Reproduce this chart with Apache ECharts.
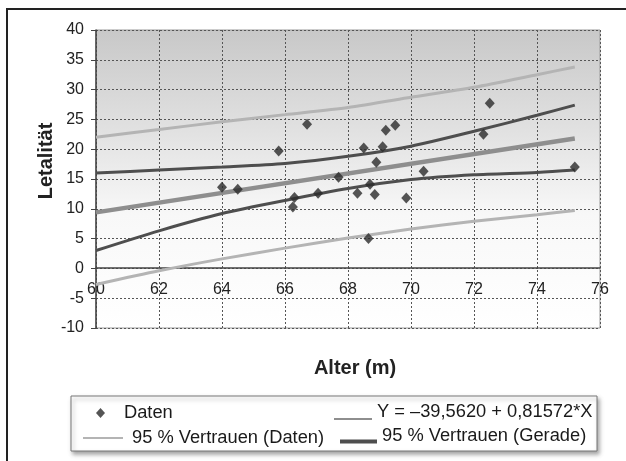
<!DOCTYPE html>
<html>
<head>
<meta charset="utf-8">
<script src="https://cdn.jsdelivr.net/npm/echarts@6/dist/echarts.min.js"></script>
<style>
html,body{margin:0;padding:0;background:#fff;}
#chart{width:626px;height:461px;}
</style>
</head>
<body>
<div id="chart"></div>
<script>
// ---- data ----
var dataX = [64.0, 64.5, 65.8, 66.7, 66.3, 66.25, 67.05, 67.7, 68.3, 68.5, 68.7, 68.85, 68.9, 69.1, 69.2, 69.5, 69.85, 70.4, 68.65, 72.5, 72.3, 75.2];
var dataY = [13.6, 13.3, 19.7, 24.2, 11.9, 10.3, 12.6, 15.3, 12.6, 20.2, 14.1, 12.4, 17.8, 20.4, 23.2, 24.0, 11.8, 16.3, 5.0, 27.7, 22.5, 17.0];

var regX = [60, 75.2];
var regY = [9.4, 21.8];

var ciX = [60, 62, 64, 66, 68, 70, 72, 74, 75.2];
var geradeUpper = [16.0, 16.5, 17.0, 17.6, 18.8, 20.5, 23.0, 25.7, 27.4];
var geradeLower = [3.0, 6.3, 9.2, 11.4, 13.4, 14.9, 15.7, 16.1, 16.5];
var datenUpper = [22.0, 23.3, 24.6, 25.8, 27.0, 28.7, 30.4, 32.5, 33.8];
var datenLower = [-2.7, -0.4, 1.6, 3.4, 5.1, 6.6, 7.9, 9.0, 9.7];

var nameDaten = 'Daten';
var nameReg = 'Y = \u201339,5620 + 0,81572*X';
var nameCiDaten = '95 % Vertrauen (Daten)';
var nameCiGerade = '95 % Vertrauen (Gerade)';
var xTitle = 'Alter (m)';
var yTitle = 'Letalit\u00e4t';

function pairs(xs, ys) { return xs.map(function (x, i) { return [x, ys[i]]; }); }

var FONT = "'Liberation Sans', Arial, sans-serif";
var cDaten = '#b4b4b4', cReg = '#8e8e8e', cGerade = '#4e4e4e';

var chart = echarts.init(document.getElementById('chart'), null, {renderer: 'canvas'});
var legendText = {color: '#1a1a1a', fontSize: 18.3, fontFamily: FONT, lineHeight: 20};

chart.setOption({
  animation: false,
  backgroundColor: '#fff',
  textStyle: {fontFamily: FONT},
  grid: {
    left: 96, right: 26, top: 30, bottom: 133,
    show: true, borderColor: '#9a9a9a', borderWidth: 1,
    backgroundColor: new echarts.graphic.LinearGradient(0, 0, 0, 1, [
      {offset: 0, color: '#c8c8c8'},
      {offset: 0.35, color: '#e2e2e2'},
      {offset: 0.62, color: '#f8f8f8'},
      {offset: 1, color: '#ffffff'}
    ])
  },
  xAxis: {
    type: 'value', min: 60, max: 76, interval: 2,
    offset: -60,
    axisLine: {onZero: false, lineStyle: {color: '#444', width: 1.5}},
    axisTick: {show: false},
    axisLabel: {color: '#222', fontSize: 16, margin: 14, fontFamily: FONT},
    splitLine: {show: true, lineStyle: {color: '#555', width: 1, type: [2, 2]}},
    name: xTitle, nameLocation: 'middle', nameGap: 90,
    nameTextStyle: {fontSize: 20, fontWeight: 'bold', color: '#222', fontFamily: FONT, padding: [0, 0, 0, 14]}
  },
  yAxis: {
    type: 'value', min: -10, max: 40, interval: 5,
    axisLine: {show: true, onZero: false, lineStyle: {color: '#444', width: 1.5}},
    axisTick: {show: true, length: 5, lineStyle: {color: '#444'}},
    axisLabel: {color: '#222', fontSize: 16, margin: 12, fontFamily: FONT},
    splitLine: {show: true, lineStyle: {color: '#555', width: 1, type: [2, 2]}},
    name: yTitle, nameLocation: 'middle', nameGap: 40, nameRotate: 90,
    nameMoveOverlap: false,
    nameTextStyle: {fontSize: 20, fontWeight: 'bold', color: '#222', fontFamily: FONT, padding: [0, 0, 0, 36]}
  },
  legend: [
    {data: [{name: nameDaten, icon: 'diamond'}], left: 96, top: 403, padding: 0,
     itemWidth: 9, itemHeight: 10, itemStyle: {borderWidth: 0},
     textStyle: Object.assign({}, legendText, {padding: [0, 0, 0, 14]})},
    {data: [{name: nameReg, icon: 'path://M0,0L38,0L38,0.01L0,0.01Z M0,14L38,14L38,16L0,16Z'}],
     left: 334, top: 402, padding: 0,
     itemWidth: 38, itemHeight: 16, itemStyle: {borderWidth: 0},
     textStyle: legendText},
    {data: [{name: nameCiDaten, icon: 'rect'}], left: 83, top: 428, padding: 0,
     itemWidth: 40, itemHeight: 2, itemStyle: {borderWidth: 0},
     textStyle: Object.assign({}, legendText, {padding: [0, 0, 0, 4]})},
    {data: [{name: nameCiGerade, icon: 'path://M0,0L37,0L37,0.01L0,0.01Z M0,11L37,11L37,15L0,15Z'}],
     left: 340, top: 426, padding: 0,
     itemWidth: 37, itemHeight: 15, itemStyle: {borderWidth: 0},
     textStyle: legendText}
  ],
  graphic: [
    {type: 'rect', z: 0, shape: {x: 7, y: 9, width: 700, height: 520},
     style: {fill: 'none', stroke: '#222', lineWidth: 2}},
    {type: 'rect', z: 1, shape: {x: 71, y: 396, width: 526, height: 55},
     style: {fill: '#fff', stroke: '#777', lineWidth: 1,
             shadowBlur: 4, shadowOffsetX: 2, shadowOffsetY: 3, shadowColor: 'rgba(0,0,0,0.35)'}}
  ],
  series: [
    {name: nameCiDaten, type: 'line', data: pairs(ciX, datenUpper), smooth: 0.25, showSymbol: false,
     lineStyle: {color: cDaten, width: 3}, itemStyle: {color: cDaten}, z: 2},
    {name: nameCiDaten, type: 'line', data: pairs(ciX, datenLower), smooth: 0.25, showSymbol: false,
     lineStyle: {color: cDaten, width: 3}, itemStyle: {color: cDaten}, z: 2},
    {name: nameReg, type: 'line', data: pairs(regX, regY), showSymbol: false,
     lineStyle: {color: cReg, width: 4.5}, itemStyle: {color: cReg}, z: 3},
    {name: nameCiGerade, type: 'line', data: pairs(ciX, geradeUpper), smooth: 0.25, showSymbol: false,
     lineStyle: {color: cGerade, width: 3}, itemStyle: {color: cGerade}, z: 3},
    {name: nameCiGerade, type: 'line', data: pairs(ciX, geradeLower), smooth: 0.25, showSymbol: false,
     lineStyle: {color: cGerade, width: 3}, itemStyle: {color: cGerade}, z: 3},
    {name: nameDaten, type: 'scatter', data: pairs(dataX, dataY), symbol: 'diamond', symbolSize: [10, 11],
     itemStyle: {color: '#2b2b2b'}, z: 5}
  ]
});
</script>
</body>
</html>
